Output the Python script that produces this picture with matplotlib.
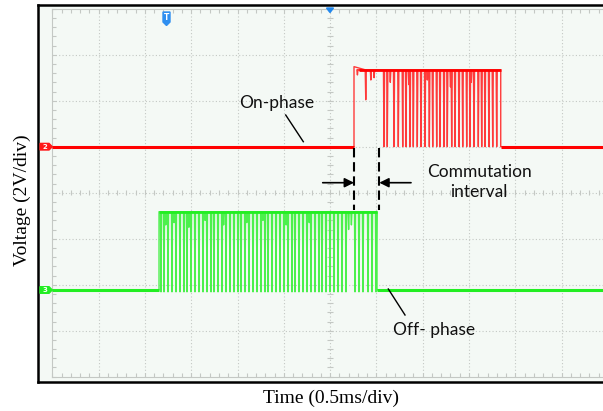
import numpy as np
import matplotlib
matplotlib.use("Agg")
import matplotlib.pyplot as plt
from matplotlib.patches import Polygon

# screen units: x in divisions (0.5 ms/div), y in divisions (2 V/div), 0 = bottom-left of graticule
X_DIVS = 12
Y_DIVS = 8
X_LABEL = "Time (0.5ms/div)"
Y_LABEL = "Voltage (2V/div)"

# channel 2 (red, on-phase)
red_base = 5.0
red_high = 6.67
red_peak = 6.74
red_rise = 6.516
red_fall = 9.685
red_drops = [7.164, 7.235, 7.380, 7.473, 7.568, 7.639, 7.726, 7.797, 7.883, 7.963,
             8.050, 8.143, 8.216, 8.302, 8.374, 8.460, 8.531, 8.626, 8.698, 8.784,
             8.864, 8.950, 9.022, 9.108, 9.201, 9.274, 9.346, 9.430, 9.512, 9.598]
red_dip_t = [6.59, 6.77, 6.88, 6.95, 7.30, 7.70, 8.10, 8.60, 9.05]
red_dip_v = [6.56, 6.02, 6.45, 6.50, 6.40, 6.35, 6.45, 6.30, 6.40]

# channel 3 (green, off-phase)
green_base = 1.885
green_high = 3.587
green_rise = 2.305
green_fall = 7.013
green_drops = [2.348, 2.413, 2.499, 2.585, 2.672, 2.758, 2.844, 2.909, 2.996, 3.082,
               3.168, 3.255, 3.341, 3.428, 3.492, 3.579, 3.665, 3.752, 3.838, 3.924,
               4.011, 4.076, 4.162, 4.248, 4.335, 4.421, 4.508, 4.594, 4.659, 4.745,
               4.832, 4.918, 5.004, 5.091, 5.177, 5.242, 5.328, 5.415, 5.501, 5.587,
               5.674, 5.760, 5.825, 5.911, 5.998, 6.084, 6.171, 6.257, 6.343, 6.538,
               6.624, 6.710, 6.819, 6.905, 6.991]
green_dip_t = [2.45, 2.63, 2.95, 3.30, 3.70, 4.20, 4.55, 5.05, 5.55, 6.40, 6.46]
green_dip_v = [3.30, 3.35, 3.25, 3.40, 3.30, 3.35, 3.40, 3.30, 3.35, 3.20, 3.30]

SAVE_AS = "out.png"


def trace(base, high, rise, fall, drops, dip_t, dip_v, low_extra=0.0, peak=None):
    ev = [(t, base - low_extra) for t in drops] + list(zip(dip_t, dip_v))
    ev.sort()
    xs = [0, rise, rise]
    ys = [base, base, peak if peak else high]
    if peak:
        xs.append(rise + 0.25)
        ys.append(high)
    w = 0.012
    for t, v in ev:
        xs += [t - w, t, t + w]
        ys += [high, v, high]
    xs += [fall, fall, X_DIVS]
    ys += [high, base, base]
    return xs, ys


fig = plt.figure(figsize=(6.03, 4.11), dpi=100)
ax = fig.add_axes([37.7 / 603, 1 - 381.7 / 411, (615 - 37.7) / 603, (381.7 - 5.5) / 411])
ax.set_facecolor("#f4f9f5")
ax.set_xlim(-0.3153, 12.153)
ax.set_ylim(-0.1087, 8.0696)
ax.set_xticks([])
ax.set_yticks([])
for s in ax.spines.values():
    s.set_linewidth(1.8)
    s.set_color("black")

# graticule
gc = "#c4c8c4"
for gx in range(1, X_DIVS + 1):
    ax.plot([gx, gx], [0, Y_DIVS], color=gc, lw=0.8, ls=(0, (1, 2)), zorder=1)
for gy in range(1, Y_DIVS):
    ax.plot([0, X_DIVS], [gy, gy], color=gc, lw=0.8, ls=(0, (1, 2)), zorder=1)
ax.plot([0, 0], [0, Y_DIVS], color=gc, lw=0.8, zorder=1)
ax.plot([0, X_DIVS], [0, 0], color=gc, lw=0.8, zorder=1)
ax.plot([0, X_DIVS], [Y_DIVS, Y_DIVS], color=gc, lw=0.8, zorder=1)
tx = np.arange(0, X_DIVS + 0.01, 0.2)
ty = np.arange(0, Y_DIVS + 0.01, 0.2)
ax.vlines(tx, 0, 0.09, color=gc, lw=0.8, zorder=1)
ax.vlines(tx, Y_DIVS - 0.09, Y_DIVS, color=gc, lw=0.8, zorder=1)
ax.hlines(ty, 0, 0.09, color=gc, lw=0.8, zorder=1)
ax.vlines(tx, 4 - 0.06, 4 + 0.06, color=gc, lw=0.8, zorder=1)
ax.hlines(ty, 6 - 0.06, 6 + 0.06, color=gc, lw=0.8, zorder=1)

# traces
rx, ry = trace(red_base, red_high, red_rise, red_fall, red_drops, red_dip_t, red_dip_v, peak=red_peak)
ax.plot(rx, ry, color="#ff3a3a", lw=1.0, zorder=3)
ax.hlines([red_base, red_base], [0, red_fall], [red_rise, X_DIVS], color="#ff0000", lw=2.2, zorder=4)
ax.hlines(red_high, red_rise + 0.1, red_fall, color="#ff0000", lw=2.0, zorder=4)

gx_, gy_ = trace(green_base, green_high, green_rise, green_fall, green_drops, green_dip_t, green_dip_v, low_extra=0.04)
ax.plot(gx_, gy_, color="#4cf04c", lw=1.0, zorder=3)
ax.hlines([green_base, green_base], [0, green_fall], [green_rise, X_DIVS], color="#22ee22", lw=2.2, zorder=4)
ax.hlines(green_high, green_rise, green_fall, color="#22ee22", lw=2.0, zorder=4)


def px(x, y):
    return ((x - 52.3) / 46.3, (376.7 - y) / 46.0)


# channel markers
for lvl, col, lab in [(red_base, "#ff1a1a", "2"), (green_base, "#22ee22", "3")]:
    x0, _ = px(40, 0)
    x1, _ = px(49, 0)
    x2, _ = px(52.3, 0)
    h = 3.3 / 46.0
    ax.add_patch(Polygon([(x0, lvl - h), (x1, lvl - h), (x2, lvl), (x1, lvl + h), (x0, lvl + h)],
                         closed=True, color=col, clip_on=False, zorder=5))
    ax.text((x0 + x1) / 2, lvl, lab, color="white", fontsize=5, fontweight="bold",
            ha="center", va="center", zorder=6)

# trigger markers
tp = [px(163, 12), px(170, 12), px(170, 22), px(166.5, 25.5), px(163, 22)]
ax.add_patch(Polygon(tp, closed=True, color="#2f8ff0", zorder=5))
ax.text(px(166.5, 17)[0], px(166.5, 17.5)[1], "T", color="white", fontsize=5.5, fontweight="bold",
        ha="center", va="center", zorder=6)
ax.add_patch(Polygon([px(326.5, 8), px(333.5, 8), px(330, 12.5)], closed=True, color="#2288ee", zorder=5))

# annotations
afont = dict(family=["Lato", "DejaVu Sans"], size=12.5, color="#111111")
ax.text(*px(277, 103), "On-phase", ha="center", va="center", **afont)
ax.plot(*zip(px(285.7, 115), px(303.3, 141.7)), color="black", lw=1.0, zorder=6)
ax.text(*px(479, 182), "Commutation\ninterval", ha="center", va="center", linespacing=1.25, **afont)
ax.text(*px(434, 330), "Off- phase", ha="center", va="center", **afont)
ax.plot(*zip(px(388.3, 289), px(405, 315)), color="black", lw=1.0, zorder=6)

ya, yb = px(0, 148)[1], px(0, 210)[1]
for xd in [px(354, 0)[0], px(379.3, 0)[0]]:
    ax.plot([xd, xd], [ya, yb], color="black", lw=1.5, dashes=(4.5, 2.3), zorder=6)
yarr = px(0, 182.7)[1]
ax.annotate("", xy=(px(354, 0)[0], yarr), xytext=(px(322.7, 0)[0], yarr),
            arrowprops=dict(arrowstyle="-|>", color="black", lw=1.2, mutation_scale=14, shrinkA=0, shrinkB=0), zorder=6)
ax.annotate("", xy=(px(379.3, 0)[0], yarr), xytext=(px(411, 0)[0], yarr),
            arrowprops=dict(arrowstyle="-|>", color="black", lw=1.2, mutation_scale=14, shrinkA=0, shrinkB=0), zorder=6)

fig.text(331 / 603, 1 - 398 / 411, X_LABEL, family="Liberation Serif", fontsize=14, ha="center", va="center")
fig.text(22 / 603, 1 - 200 / 411, Y_LABEL, family="Liberation Serif", fontsize=14, ha="center", va="center",
         rotation=90)

plt.savefig(SAVE_AS, dpi=100)
